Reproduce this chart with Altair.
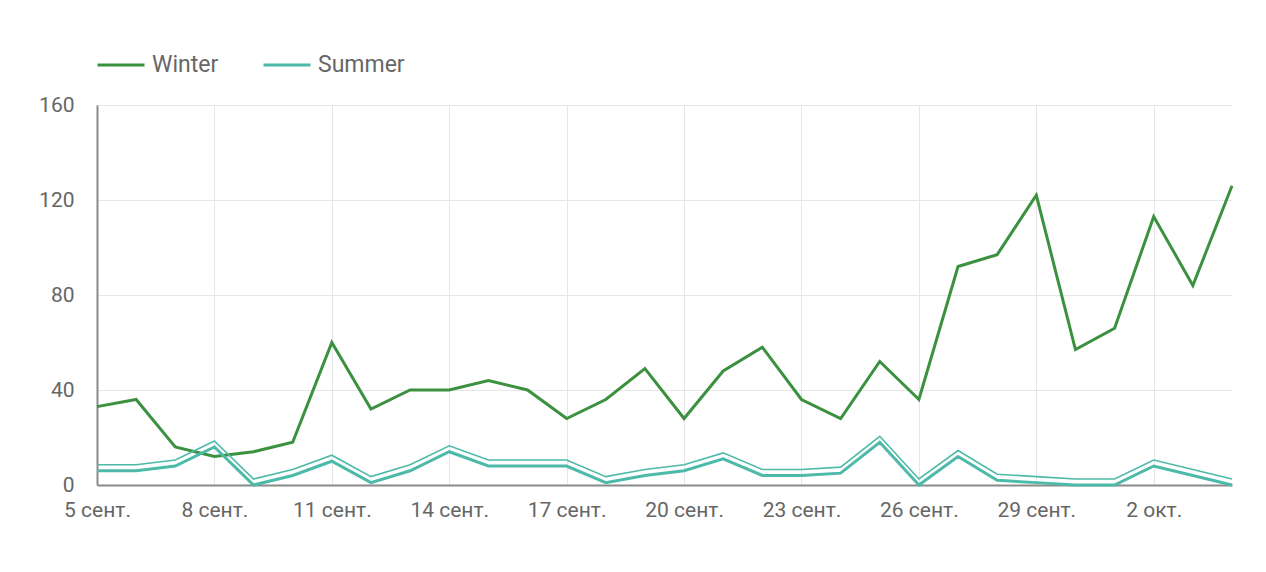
import altair as alt
import pandas as pd

days = [f"2023-09-{d:02d}" for d in range(5, 31)] + [f"2023-10-{d:02d}" for d in range(1, 5)]
winter = [33, 36, 16, 12, 14, 18, 60, 32, 40, 40, 44, 40, 28, 36, 49, 28, 48, 58, 36, 28,
          52, 36, 92, 97, 122, 57, 66, 113, 84, 126]
summer = [6, 6, 8, 16, 0, 4, 10, 1, 6, 14, 8, 8, 8, 1, 4, 6, 11, 4, 4, 5,
          18, 0, 12, 2, 1, 0, 0, 8, 4, 0]
series = ["Winter", "Summer"]
colors = ["#3b913f", "#4dbaa9"]
y_ticks = [0, 40, 80, 120, 160]
tick_days = [(2023, 9, 5), (2023, 9, 8), (2023, 9, 11), (2023, 9, 14), (2023, 9, 17),
             (2023, 9, 20), (2023, 9, 23), (2023, 9, 26), (2023, 9, 29), (2023, 10, 2)]
month_names = ["сент.", "окт."]

df = pd.DataFrame({
    "date": days * 2,
    "value": winter + summer,
    "series": [series[0]] * len(days) + [series[1]] * len(days),
})

FONT = "Roboto"
x_enc = alt.X(
    "date:T",
    scale=alt.Scale(type="utc", domain=[days[0], days[-1]], nice=False),
    axis=alt.Axis(
        values=[alt.DateTime(year=y, month=m, date=d, utc=True) for (y, m, d) in tick_days],
        labelExpr="utcdate(datum.value) + ' ' + (utcmonth(datum.value) == 8 ? '%s' : '%s')" % (month_names[0], month_names[1]),
        title=None,
        grid=True,
        gridColor="#e6e6e6",
        domainColor="#8a8a8a",
        domainWidth=2,
        ticks=False,
        labelFont=FONT,
        labelFontSize=21,
        labelColor="#666666",
        labelPadding=14,
        labelAlign="center",
        labelFlush=False,
    ),
)
y_enc = alt.Y(
    "value:Q",
    scale=alt.Scale(domain=[0, 160], nice=False),
    axis=alt.Axis(
        values=y_ticks,
        title=None,
        grid=True,
        gridColor="#e6e6e6",
        domainColor="#8a8a8a",
        domainWidth=2,
        ticks=False,
        labelFont=FONT,
        labelFontSize=21,
        labelColor="#666666",
        labelPadding=23,
    ),
)
color_enc = alt.Color(
    "series:N",
    scale=alt.Scale(domain=series, range=colors),
    sort=series,
    legend=alt.Legend(
        title=None,
        orient="none",
        legendX=-1,
        legendY=-65,
        direction="horizontal",
        symbolType="stroke",
        symbolSize=2209,
        symbolStrokeWidth=3,
        labelFont=FONT,
        labelFontSize=23,
        labelColor="#666666",
        labelOffset=6,
        columnPadding=38,
        padding=0,
    ),
)

base = alt.Chart(df)
winter_line = base.transform_filter(alt.datum.series == series[0]).mark_line(strokeWidth=3).encode(
    x=x_enc, y=y_enc, color=color_enc
)
summer_upper = base.transform_filter(alt.datum.series == series[1]).mark_line(
    strokeWidth=1.6, yOffset=-6, color=colors[1]
).encode(x=x_enc, y=y_enc)
summer_line = base.transform_filter(alt.datum.series == series[1]).mark_line(strokeWidth=3).encode(
    x=x_enc, y=y_enc, color=color_enc
)

chart = alt.layer(winter_line, summer_upper, summer_line).properties(
    width=1135,
    height=380,
    padding={"left": 89, "top": 97, "right": 20, "bottom": 60},
    autosize=alt.AutoSizeParams(type="none"),
    background="white",
).configure_view(stroke=None)

chart.save("out.html", embed_options={"renderer": "svg", "actions": False})
